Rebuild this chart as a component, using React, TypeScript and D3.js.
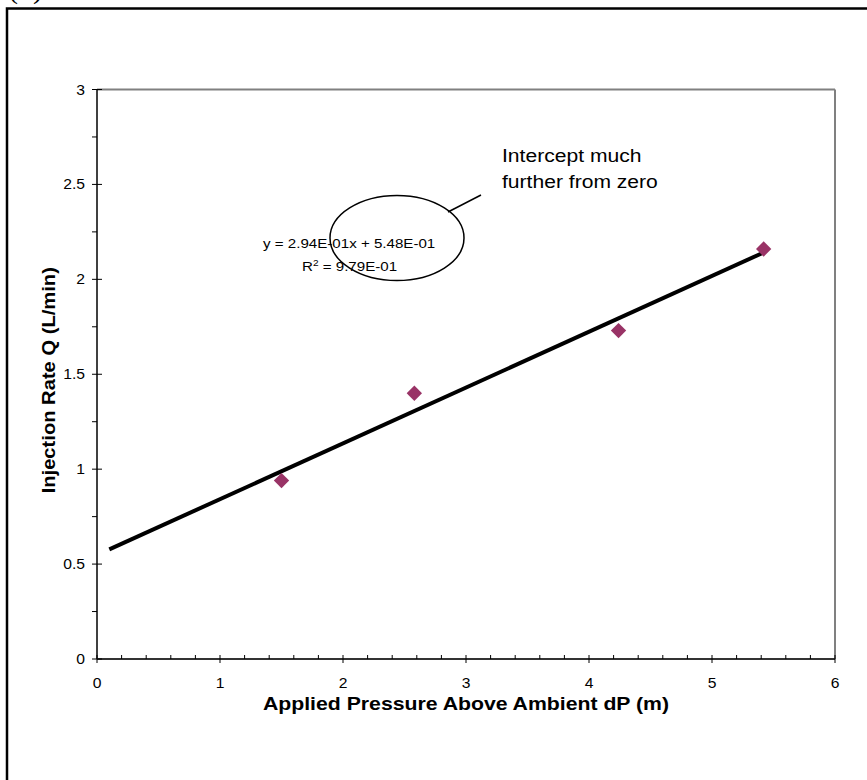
import React from "react";
import * as d3 from "d3";

const xTicks = [0, 1, 2, 3, 4, 5, 6];
const yTicks = [0, 0.5, 1, 1.5, 2, 2.5, 3];
const yTickLabels = ["0", "0.5", "1", "1.5", "2", "2.5", "3"];
const pressure = [1.5, 2.58, 4.24, 5.42];
const injectionRate = [0.94, 1.4, 1.73, 2.16];
const fitSlope = 0.294;
const fitIntercept = 0.548;
const fitRange = [0.1, 5.42];
const equationText = "y = 2.94E-01x + 5.48E-01";
const r2Value = " = 9.79E-01";
const calloutLines = ["Intercept much", "further from zero"];
const xTitle = "Applied Pressure Above Ambient dP (m)";
const yTitle = "Injection Rate Q (L/min)";

const FONT = "'Liberation Sans', Arial, sans-serif";

export default function App() {
  const left = 97, right = 835, top = 89.5, bottom = 659;
  const x = d3.scaleLinear().domain([0, 6]).range([left, right]);
  const y = d3.scaleLinear().domain([0, 3]).range([bottom, top]);
  const xMinor = d3.range(0, 6.001, 0.2).filter((v) => Math.abs(v - Math.round(v)) > 1e-6);
  const yMinor = d3.range(0.25, 3, 0.5);
  const line = d3.line<number>().x((d) => x(d)).y((d) => y(fitSlope * d + fitIntercept));
  const diamond = d3.symbol().type(d3.symbolDiamond2).size(150)();

  const T = (props: any) => {
    const { x: tx, y: ty, sx = 1.12, children, ...rest } = props;
    return (
      <g transform={`translate(${tx},${ty}) scale(${sx},1)`}>
        <text x={0} y={0} fontFamily={FONT} {...rest}>{children}</text>
      </g>
    );
  };

  return (
    <svg width={867} height={780} style={{ position: "absolute", left: 0, top: 0, background: "#fff" }}>
      <rect x={0} y={0} width={867} height={780} fill="#fff" />
      <text x={8} y={-2.5} fontFamily="'Liberation Serif', serif" fontSize={30}>(b)</text>
      <rect x={7} y={8.5} width={900} height={900} fill="none" stroke="#000" strokeWidth={2.5} />

      {/* plot border */}
      <line x1={left} x2={right} y1={top} y2={top} stroke="#808080" strokeWidth={2} />
      <line x1={right} x2={right} y1={top} y2={bottom} stroke="#808080" strokeWidth={2} />

      {/* axes */}
      <line x1={left} x2={left} y1={top} y2={bottom} stroke="#000" strokeWidth={1.5} />
      <line x1={left} x2={right} y1={bottom} y2={bottom} stroke="#333" strokeWidth={2} />

      {xTicks.map((t) => (
        <line key={"xt" + t} x1={x(t)} x2={x(t)} y1={bottom - 4} y2={bottom + 4} stroke="#000" strokeWidth={1} />
      ))}
      {xMinor.map((t, i) => (
        <line key={"xm" + i} x1={x(t)} x2={x(t)} y1={bottom - 4} y2={bottom} stroke="#000" strokeWidth={1} />
      ))}
      {yTicks.map((t) => (
        <line key={"yt" + t} x1={left - 5} x2={left + 5} y1={y(t)} y2={y(t)} stroke="#000" strokeWidth={1} />
      ))}
      {yMinor.map((t, i) => (
        <line key={"ym" + i} x1={left - 5} x2={left} y1={y(t)} y2={y(t)} stroke="#000" strokeWidth={1} />
      ))}

      {xTicks.map((t) => (
        <T key={"xl" + t} x={x(t)} y={688} fontSize={14} textAnchor="middle">{String(t)}</T>
      ))}
      {yTicks.map((t, i) => (
        <T key={"yl" + t} x={85} y={y(t) + 5} fontSize={14} textAnchor="end">{yTickLabels[i]}</T>
      ))}

      <T x={(left + right) / 2} y={710} sx={1.18} fontSize={18} fontWeight="bold" textAnchor="middle">{xTitle}</T>
      <g transform={`translate(55,${(top + bottom) / 2 + 6}) rotate(-90) scale(1.12,1)`}>
        <text x={0} y={0} fontFamily={FONT} fontSize={18} fontWeight="bold" textAnchor="middle">{yTitle}</text>
      </g>

      <path d={line(fitRange) || ""} fill="none" stroke="#000" strokeWidth={4} />

      {pressure.map((p, i) => (
        <path key={"pt" + i} d={diamond || ""} transform={`translate(${x(p)},${y(injectionRate[i])})`} fill="#993366" />
      ))}

      <T x={263} y={248} sx={1.12} fontSize={13.5}>{equationText}</T>
      <T x={302} y={271} sx={1.12} fontSize={13.5}>
        R<tspan dy={-5} fontSize={9}>2</tspan><tspan dy={5}>{r2Value}</tspan>
      </T>

      <ellipse cx={397} cy={238} rx={67} ry={42.5} fill="none" stroke="#000" strokeWidth={1.5} />
      <line x1={448} y1={212} x2={481} y2={195} stroke="#000" strokeWidth={1.5} />

      {calloutLines.map((s, i) => (
        <T key={"c" + i} x={502} y={162 + i * 26} sx={1.14} fontSize={18.5}>{s}</T>
      ))}
    </svg>
  );
}
